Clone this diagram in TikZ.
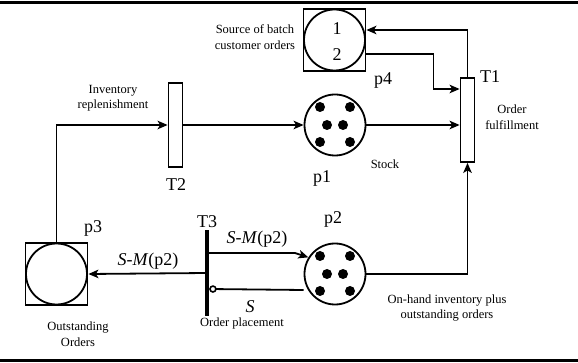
\documentclass[tikz,border=0pt]{standalone}
\usepackage{fontspec}
\setmainfont{Liberation Serif}
\usetikzlibrary{arrows.meta, positioning, calc}
\newcommand{\SMark}{\textit{S}-\textit{M}(p2)}
% six tokens inside a place
\newcommand{\marking}[1]{%
  \foreach \dx/\dy [count=\i] in {-15/-18, 15/-18, -8/0, 8/0, -15/17, 15/17}
    \node[dot] (#1-t\i) at ($(#1)+(\dx,\dy)$) {};}

\begin{document}
\begin{tikzpicture}[
  x=1pt, y=-1pt,
  place/.style={circle, draw, line width=1.8pt, minimum size=61pt, inner sep=0pt},
  frame/.style={rectangle, draw, line width=1.8pt, minimum size=62pt, inner sep=0pt},
  trans/.style={rectangle, draw, line width=1.8pt, minimum width=14pt, minimum height=84pt, inner sep=0pt},
  bar/.style={rectangle, fill=black, minimum width=4pt, minimum height=86pt, inner sep=0pt},
  dot/.style={circle, fill=black, minimum size=10pt, inner sep=0pt},
  arrow/.style={-{Stealth[length=10pt, width=8.5pt, inset=2.5pt]}, line width=1.8pt},
  inhibit/.style={-{Circle[open, length=7.5pt, width=7.5pt, line width=1.6pt]}, line width=1.8pt},
  note/.style={font=\fontsize{12.5}{15.5}\selectfont, align=center, inner sep=0pt},
  tag/.style={font=\fontsize{18}{20}\selectfont, inner sep=0pt}
]
  \useasboundingbox (0,0) rectangle (578,363);
  \draw[line width=3pt] (0,3) -- (578,3);
  \draw[line width=3pt] (0,360.5) -- (578,360.5);

  % places
  \node[frame] (p4box) at (334.5,40) {};
  \node[place] (p4) at (334.5,40) {};
  \node[tag] (p4one) at (337,29) {1};
  \node[tag] (p4two) at (337,55) {2};
  \node[place] (p1) at (335,125) {};
  \marking{p1}
  \node[place] (p2) at (335,274) {};
  \marking{p2}
  \node[frame] (p3box) at (56.5,274) {};
  \node[place] (p3) at (56.5,274) {};

  % transitions
  \node[trans] (T1) at (467.5,120) {};
  \node[trans] (T2) at (175.5,125) {};
  \node[bar] (T3) at (207,273) {};

  % arcs
  \draw[arrow] (T1.north) |- ([yshift=10pt]p4box.east);
  \draw[arrow] ([yshift=-14pt]p4box.east) -- ++(67,0) |- ([yshift=31pt]T1.west);
  \draw[arrow] (p1.east) -- (p1.east -| T1.west);
  \draw[arrow] (p3box.north) |- (T2.west);
  \draw[arrow] (T2.east) -- (p1.west);
  \draw[arrow] (p2.east) -| (T1.south);
  \draw[arrow] (T3) -- (p3box.east);
  \draw[arrow] ([yshift=20pt]T3.center) -- ++(88,0) -- (p2.148);
  \draw[inhibit] ([yshift=-16pt]p2.west) -- ([yshift=-16pt]T3.east);

  % labels
  \node[note] (srcnote) at (255,37) {Source of batch\\customer orders};
  \node[tag] (p4name) at (383,80) {p4};
  \node[tag] (T1name) at (490,77) {T1};
  \node[note] (T1note) at (512,117) {Order\\fulfillment};
  \node[note] (p1note) at (385,164) {Stock};
  \node[tag] (p1name) at (322,178) {p1};
  \node[note] (T2note) at (113,98) {Inventory\\replenishment};
  \node[tag] (T2name) at (176,185) {T2};
  \node[tag] (p3name) at (93,228) {p3};
  \node[tag] (T3name) at (207,222) {T3};
  \node[tag] (leftarc) at (148,261) {\SMark};
  \node[tag] (rightarc) at (257,239) {\SMark};
  \node[tag] (p2name) at (333,219) {p2};
  \node[tag] (Snote) at (250,307) {\textit{S}};
  \node[note] (T3note) at (242,323) {Order placement};
  \node[note] (p3note) at (78,334) {Outstanding\\Orders};
  \node[note] (p2note) at (447,308) {On-hand inventory plus\\outstanding orders};
\end{tikzpicture}
\end{document}
